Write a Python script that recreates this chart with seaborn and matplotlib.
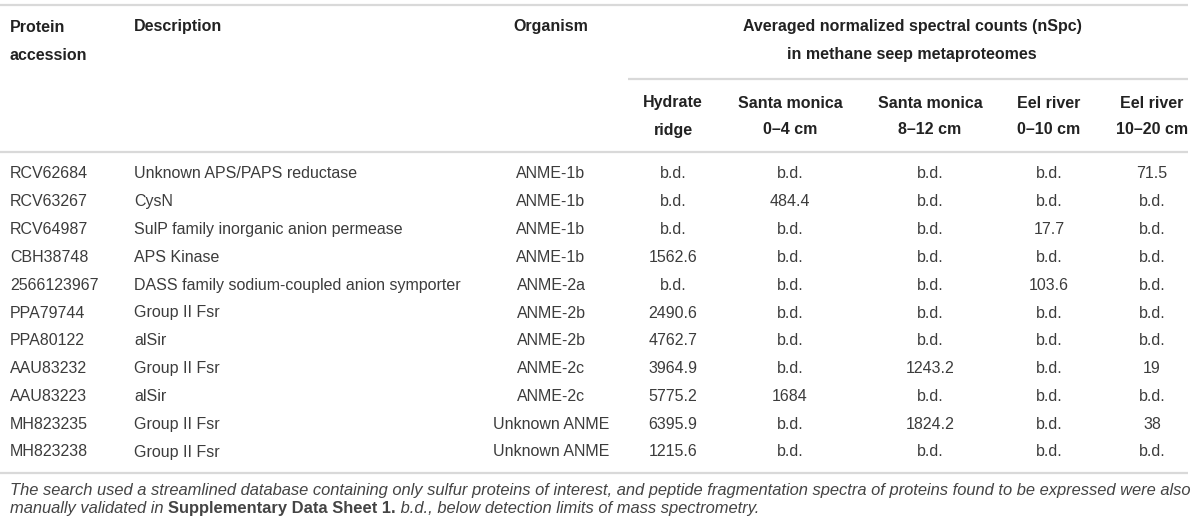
import seaborn as sns
import matplotlib.pyplot as plt

sns.set_theme(style="white")
plt.rcParams["font.family"] = ["Liberation Sans", "DejaVu Sans"]

accession = ["RCV62684", "RCV63267", "RCV64987", "CBH38748", "2566123967", "PPA79744",
             "PPA80122", "AAU83232", "AAU83223", "MH823235", "MH823238"]
description = ["Unknown APS/PAPS reductase", "CysN", "SulP family inorganic anion permease",
               "APS Kinase", "DASS family sodium-coupled anion symporter", "Group II Fsr",
               "alSir", "Group II Fsr", "alSir", "Group II Fsr", "Group II Fsr"]
organism = ["ANME-1b", "ANME-1b", "ANME-1b", "ANME-1b", "ANME-2a", "ANME-2b",
            "ANME-2b", "ANME-2c", "ANME-2c", "Unknown ANME", "Unknown ANME"]

sites = ["Hydrate\nridge", "Santa monica\n0\u20134 cm", "Santa monica\n8\u201312 cm",
         "Eel river\n0\u201310 cm", "Eel river\n10\u201320 cm"]
# None = b.d.
hydrate_ridge = [None, None, None, "1562.6", None, "2490.6", "4762.7", "3964.9", "5775.2", "6395.9", "1215.6"]
santa_monica_0_4 = [None, "484.4", None, None, None, None, None, None, "1684", None, None]
santa_monica_8_12 = [None, None, None, None, None, None, None, "1243.2", None, "1824.2", None]
eel_river_0_10 = [None, None, "17.7", None, "103.6", None, None, None, None, None, None]
eel_river_10_20 = ["71.5", None, None, None, None, None, None, "19", None, "38", None]
values = [hydrate_ridge, santa_monica_0_4, santa_monica_8_12, eel_river_0_10, eel_river_10_20]

group_title = "Averaged normalized spectral counts (nSpc)\nin methane seep metaproteomes"
note_1 = ("The search used a streamlined database containing only sulfur proteins of interest, "
          "and peptide fragmentation spectra of proteins found to be expressed were also")
note_2 = ["manually validated in ", "Supplementary Data Sheet 1.",
          " b.d., below detection limits of mass spectrometry."]

W, H = 1200, 527
fig = plt.figure(figsize=(W / 100, H / 100), dpi=100)
ax = fig.add_axes([0, 0, 1, 1])
ax.set_xlim(0, W)
ax.set_ylim(H, 0)
ax.axis("off")

txt = "#3c3c3c"
fs = 11.5
line_c = "#d9d9d9"

# rules
for y, x0 in [(5, 0), (79, 628), (152, 0), (473, 0)]:
    ax.plot([x0, 1188], [y, y], color=line_c, lw=1.6, solid_capstyle="butt")

# headers
hb = dict(fontsize=fs, fontweight="bold", color="#222222", va="center")
ax.text(10, 27, "Protein", ha="left", **hb)
ax.text(10, 55, "accession", ha="left", **hb)
ax.text(134, 27, "Description", ha="left", **hb)
ax.text(551, 27, "Organism", ha="center", **hb)
g1, g2 = group_title.split("\n")
ax.text(912, 27, g1, ha="center", **hb)
ax.text(912, 55, g2, ha="center", **hb)

col_x = [673, 790, 930, 1049, 1152]
for cx, s in zip(col_x, sites):
    a, b = s.split("\n")
    ax.text(cx, 103, a, ha="center", **hb)
    ax.text(cx, 130, b, ha="center", **hb)

# body
y0, dy = 174, 27.8
for i in range(len(accession)):
    y = y0 + i * dy
    ax.text(10, y, accession[i], ha="left", va="center", fontsize=fs, color=txt)
    ax.text(134, y, description[i], ha="left", va="center", fontsize=fs, color=txt)
    ax.text(551, y, organism[i], ha="center", va="center", fontsize=fs, color=txt)
    for cx, col in zip(col_x, values):
        v = col[i] if col[i] is not None else "b.d."
        ax.text(cx, y, v, ha="center", va="center", fontsize=fs, color=txt)

# footnote
nc = "#444444"
nfs = 11.9
ax.text(10, 490, note_1, ha="left", va="center", fontsize=nfs, style="italic", color=nc)
fig.canvas.draw()
r = fig.canvas.get_renderer()
x = 10
for k, part in enumerate(note_2):
    t = ax.text(x, 508, part, ha="left", va="center", fontsize=nfs, color=nc,
                style="normal" if k == 1 else "italic",
                fontweight="bold" if k == 1 else "normal")
    bb = t.get_window_extent(renderer=r)
    x += bb.width

fig.savefig("out.png", dpi=100)
